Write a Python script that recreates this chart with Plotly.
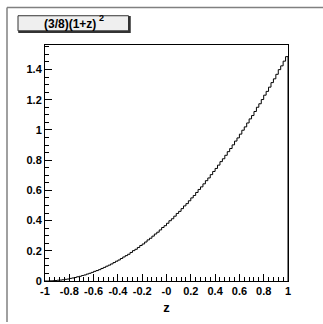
import numpy as np
import plotly.graph_objects as go

# Histogram of z, 100 bins over [-1, 1]
z_edges_lo = -1.0
z_edges_hi = 1.0
bin_contents = [
    0.000, 0.000, 0.001, 0.002, 0.003, 0.005, 0.006, 0.008, 0.011, 0.013,
    0.017, 0.020, 0.023, 0.028, 0.031, 0.036, 0.040, 0.046, 0.051, 0.057,
    0.064, 0.069, 0.075, 0.083, 0.090, 0.098, 0.105, 0.113, 0.122, 0.131,
    0.139, 0.149, 0.159, 0.168, 0.177, 0.189, 0.201, 0.210, 0.222, 0.235,
    0.245, 0.258, 0.272, 0.283, 0.297, 0.311, 0.323, 0.338, 0.354, 0.366,
    0.382, 0.399, 0.412, 0.429, 0.447, 0.461, 0.479, 0.497, 0.512, 0.531,
    0.550, 0.566, 0.586, 0.606, 0.623, 0.643, 0.664, 0.682, 0.704, 0.725,
    0.745, 0.767, 0.790, 0.809, 0.832, 0.856, 0.877, 0.901, 0.926, 0.947,
    0.972, 0.998, 1.020, 1.046, 1.073, 1.095, 1.122, 1.150, 1.173, 1.201,
    1.230, 1.255, 1.283, 1.313, 1.338, 1.368, 1.399, 1.424, 1.455, 1.485,
]
x_tick_vals = [-1, -0.8, -0.6, -0.4, -0.2, 0, 0.2, 0.4, 0.6, 0.8, 1]
x_tick_text = ["-1", "-0.8", "-0.6", "-0.4", "-0.2", "-0", "0.2", "0.4", "0.6", "0.8", "1"]
y_tick_vals = [0, 0.2, 0.4, 0.6, 0.8, 1, 1.2, 1.4]
y_tick_text = ["0", "0.2", "0.4", "0.6", "0.8", "1", "1.2", "1.4"]
title_base = "(3/8)(1+z)"
title_power = "2"
x_title = "z"

n = len(bin_contents)
edges = np.linspace(z_edges_lo, z_edges_hi, n + 1)
step_x = [edges[0]] + list(edges[:-1]) + [edges[-1]]
step_y = [0.0] + list(bin_contents) + [0.0]

W, H = 323, 324
L, R, T, B = 45, 35, 45, 37
pw, ph = W - L - R, H - T - B

def px_x(p):
    return (p - L) / pw

def px_y(p):
    return (H - B - p) / ph

FAM = "Liberation Sans, Arial, sans-serif"

fig = go.Figure()
fig.add_trace(go.Scatter(
    x=step_x, y=step_y, mode="lines", line=dict(color="black", width=1, shape="hv"),
    cliponaxis=False, showlegend=False, hoverinfo="skip",
))

fig.update_layout(
    width=W, height=H, margin=dict(l=L, r=R, t=T, b=B),
    paper_bgcolor="white", plot_bgcolor="white", showlegend=False,
    font=dict(family=FAM, size=11, color="black"),
    xaxis=dict(
        range=[-1, 1], tickmode="array", tickvals=x_tick_vals,
        ticktext=["<b>" + t + "</b>" for t in x_tick_text],
        ticks="inside", ticklen=7, tickcolor="black", tickwidth=1,
        minor=dict(dtick=0.04, tick0=-1, ticks="inside", ticklen=4, tickcolor="black", showgrid=False),
        showgrid=False, zeroline=False, showline=True, linecolor="black", linewidth=1, mirror=True,
        tickfont=dict(family=FAM, size=11, color="black"),
        title=dict(text="<b>" + x_title + "</b>", font=dict(family=FAM, size=13), standoff=6),
    ),
    yaxis=dict(
        range=[0, 1.562], tickmode="array", tickvals=y_tick_vals,
        ticktext=["<b>" + t + "</b>" for t in y_tick_text],
        ticks="inside", ticklen=7, tickcolor="black", tickwidth=1,
        minor=dict(dtick=0.05, tick0=0, ticks="inside", ticklen=4, tickcolor="black", showgrid=False),
        showgrid=False, zeroline=False, showline=True, linecolor="black", linewidth=1, mirror=True,
        tickfont=dict(family=FAM, size=11, color="black"),
    ),
)

# canvas border (top and left edges)
fig.add_shape(type="line", xref="paper", yref="paper",
              x0=px_x(7), x1=px_x(W + 5), y0=px_y(6.5), y1=px_y(6.5),
              line=dict(color="#808080", width=1.5))
fig.add_shape(type="line", xref="paper", yref="paper",
              x0=px_x(7), x1=px_x(7), y0=px_y(6.5), y1=px_y(H + 5),
              line=dict(color="#808080", width=1.5))

# title box with shadow
fig.add_shape(type="rect", xref="paper", yref="paper",
              x0=px_x(19), x1=px_x(130), y0=px_y(32), y1=px_y(16),
              line=dict(color="#333333", width=1.5), fillcolor="#333333", layer="above")
fig.add_shape(type="rect", xref="paper", yref="paper",
              x0=px_x(18), x1=px_x(128.5), y0=px_y(30.5), y1=px_y(15),
              line=dict(color="#333333", width=1), fillcolor="#efefef", layer="above")
fig.add_annotation(xref="paper", yref="paper", x=px_x(97.5), y=px_y(23.5),
                   text="<b>" + title_base + "</b>", showarrow=False,
                   xanchor="right", yanchor="middle",
                   font=dict(family=FAM, size=12, color="black"))
fig.add_annotation(xref="paper", yref="paper", x=px_x(96.5), y=px_y(17),
                   text="<b>" + title_power + "</b>", showarrow=False,
                   xanchor="left", yanchor="middle",
                   font=dict(family=FAM, size=9, color="black"))

fig.write_html("out.html")
